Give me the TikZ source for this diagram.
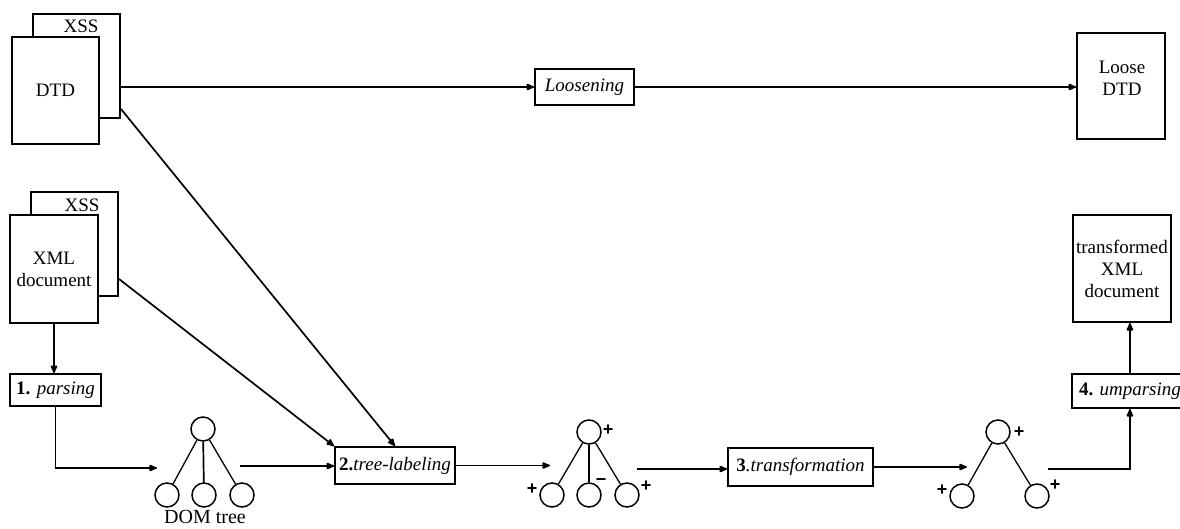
\documentclass[tikz,border=0pt]{standalone}
\usepackage{fontspec}
\setmainfont{Liberation Serif}
\newfontfamily\plusfont{Liberation Sans}
\usetikzlibrary{arrows.meta,calc}
\begin{document}
\begin{tikzpicture}[x=1pt,y=-1pt,font=\fontsize{19}{22}\selectfont]
\tikzset{
 doc/.style={draw, line width=1.9pt, fill=white, inner sep=0pt, align=center},
 proc/.style={draw, line width=1.9pt, fill=white, inner sep=0pt, align=center},
 conn/.style={line width=1.7pt, -{Latex[length=10pt,width=8pt,round]}},
 tedge/.style={line width=1.3pt},
 tnode/.style={circle, draw, line width=1.5pt, minimum size=24pt, inner sep=0pt},
 sign/.style={font=\plusfont\bfseries\fontsize{18}{18}\selectfont, inner sep=0pt},
 lbl/.style={inner sep=0pt, align=center}
}
\useasboundingbox (0,0) rectangle (1180,528);
% documents
\node[doc, minimum width=87pt, minimum height=104pt] (dtdback) at (76.5,66) {};
\node[lbl] (xss1) at (81,26) {XSS};
\node[doc, minimum width=87pt, minimum height=107pt] (dtd) at (55.5,90.5) {DTD};
\node[doc, minimum width=87pt, minimum height=104pt] (xmlback) at (74.5,244) {};
\node[lbl] (xss2) at (82,205) {XSS};
\node[doc, minimum width=88pt, minimum height=108pt] (xml) at (54,269) {XML\\document};
\node[proc, minimum width=99pt, minimum height=36pt] (loosen) at (584.5,87) {\itshape Loosening};
\node[doc, minimum width=88pt, minimum height=106pt] (loosedtd) at (1121,86) {};
\node[lbl] (loosetxt) at (1122,78) {Loose\\DTD};
\node[proc, minimum width=91pt, minimum height=32pt] (parse) at (55.5,390) {\textbf{1.} \textit{parsing}};
\node[proc, minimum width=120pt, minimum height=37pt] (tlab) at (395,465.5) {\textbf{2.}\textit{tree-labeling}};
\node[proc, minimum width=145pt, minimum height=38pt] (trans) at (800.5,467) {\textbf{3}\textit{.transformation}};
\node[proc, minimum width=116pt, minimum height=34pt, anchor=west] (unpar) at (1071,391) {\textbf{4.} \textit{umparsing}};
\node[doc, minimum width=98pt, minimum height=107pt] (tdoc) at (1122,268.5) {transformed\\XML\\document};
% tree 1
\node[tnode] (a0) at (203,429) {};
\node[tnode] (a1) at (167,495) {};
\node[tnode] (a2) at (204,495) {};
\node[tnode] (a3) at (242,495) {};
\draw[tedge] (a0) -- (a1);
\draw[tedge] (a0) -- (a3);
\draw[line width=1.7pt] (a0) -- (a2);
\node[lbl] (domlbl) at (205,517) {\fontsize{20}{22}\selectfont DOM tree};
% tree 2
\node[tnode] (b0) at (589,432) {};
\node[tnode] (b1) at (552,495) {};
\node[tnode] (b2) at (589,495) {};
\node[tnode] (b3) at (627,495) {};
\draw[tedge] (b0) -- (b1);
\draw[tedge] (b0) -- (b3);
\draw[line width=1.7pt] (b0) -- (b2);
\node[sign] (bs0) at (608,430) {+};
\node[sign] (bs1) at (532,489) {+};
\node[sign] (bs2) at (601,482) {−};
\node[sign] (bs3) at (646,486) {+};
% tree 3
\node[tnode] (c0) at (998,432) {};
\node[tnode] (c1) at (962,496) {};
\node[tnode] (c2) at (1037,496) {};
\draw[tedge] (c0) -- (c1);
\draw[tedge] (c0) -- (c2);
\node[sign] (cs0) at (1019,432) {+};
\node[sign] (cs1) at (942,490) {+};
\node[sign] (cs2) at (1055,485) {+};
% coordinates
\coordinate (t1in) at (157,468);
\coordinate (t1out) at (240,466);
\coordinate (t2in) at (550,469);
\coordinate (t2out) at (637,469);
\coordinate (t3in) at (967,469);
\coordinate (t3out) at (1048,469);
% connectors
\draw[conn] (dtdback.east |- loosen.west) -- (loosen.west);
\draw[conn] (loosen.east) -- (loosen.east -| loosedtd.west);
\draw[conn] ([yshift=10pt]dtdback.south east) -- (tlab.north);
\draw[conn] ([yshift=18pt]xmlback.south east) -- (tlab.north west);
\draw[conn] (xml.south) -- (xml.south |- parse.north);
\draw[conn] (parse.south) |- (t1in);
\draw[conn] (t1out) -- (t1out -| tlab.west);
\draw[conn] (tlab.east) -- (tlab.east -| t2in);
\draw[conn] (t2out) -- (t2out -| trans.west);
\draw[conn] (trans.east) -- (trans.east -| t3in);
\draw[conn] (t3out) -| (unpar.south);
\draw[conn] (unpar.north) -- (unpar.north |- tdoc.south);
\end{tikzpicture}
\end{document}
